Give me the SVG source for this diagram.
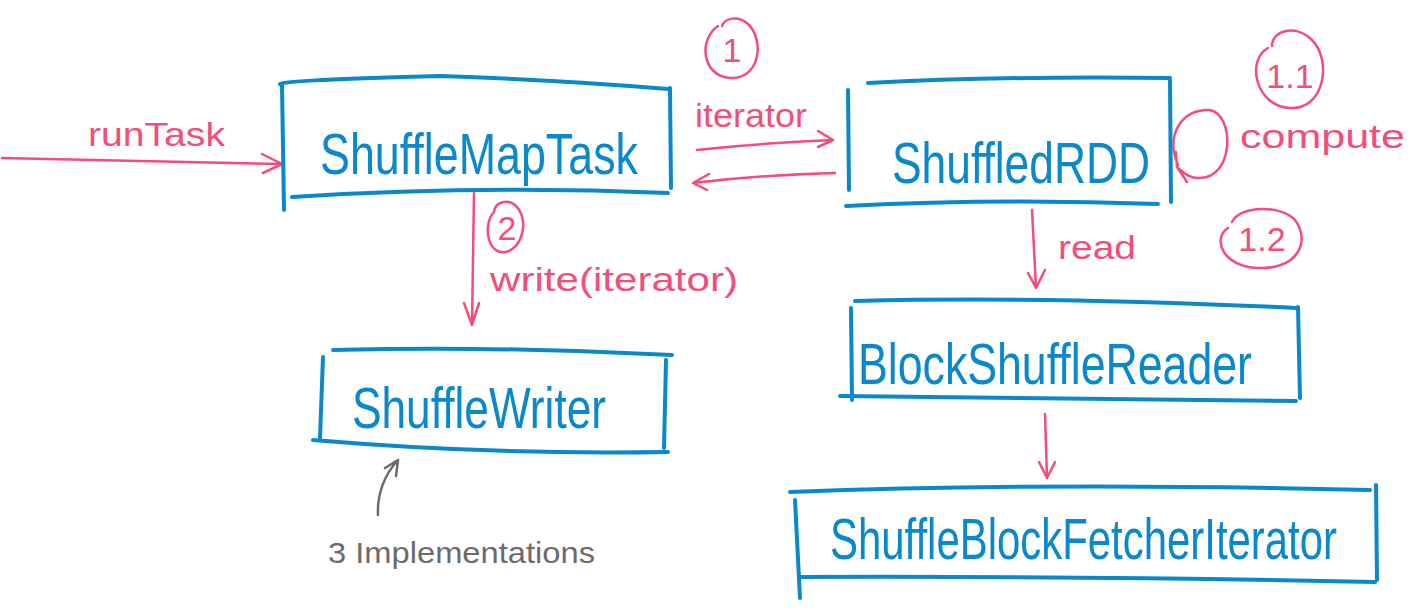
<svg xmlns="http://www.w3.org/2000/svg" width="1426" height="610" viewBox="0 0 1426 610">
<style>
.box{fill:none;stroke:#0a88cc;stroke-width:4;stroke-linecap:round;stroke-linejoin:round}
.btxt{fill:#0a88cc;font-family:"Liberation Sans","DejaVu Sans",sans-serif;font-size:58px}
.pk{fill:none;stroke:#f44d7a;stroke-width:2.5;stroke-linecap:round;stroke-linejoin:round}
.ptxt{fill:#f44d7a;font-family:"Liberation Sans","DejaVu Sans",sans-serif;font-size:34px}
.gr{fill:none;stroke:#6e6a6a;stroke-width:2.5;stroke-linecap:round;stroke-linejoin:round}
.gtxt{fill:#6e6a6a;font-family:"Liberation Sans","DejaVu Sans",sans-serif;font-size:30px}
</style>
<g id="connectors">
  <path class="pk" d="M2,158 L282,164 M262,154 L282,164 L263,173"/>
  <path class="pk" d="M697,150 Q760,143 833,140 M818,131 L833,140 L818,147"/>
  <path class="pk" d="M835,173 Q760,175 693,183 M709,174 L693,183 L707,190"/>
  <path class="pk" d="M1178,165 C1165,135 1182,108 1210,110 C1235,115 1234,178 1200,178 C1190,179 1183,172 1178,168 M1176,152 L1177,167 L1187,182"/>
  <path class="pk" d="M1032,210 L1036,288 M1028,273 L1036,288 L1045,270"/>
  <path class="pk" d="M1045,414 L1047,478 M1039,462 L1047,478 L1055,462"/>
  <path class="pk" d="M474,193 L472,325 M464,303 L472,325 L479,303"/>
  <path class="gr" d="M378,515 C377,495 384,475 398,460 M385,468 L398,460 L396,476"/>
</g>
<g id="labels">
  <text class="ptxt" x="88" y="146" textLength="137" lengthAdjust="spacingAndGlyphs">runTask</text>
  <text class="ptxt" x="695" y="127" textLength="112" lengthAdjust="spacingAndGlyphs">iterator</text>
  <text class="ptxt" x="1240" y="148" textLength="165" lengthAdjust="spacingAndGlyphs">compute</text>
  <text class="ptxt" x="1058" y="259" textLength="78" lengthAdjust="spacingAndGlyphs">read</text>
  <text class="ptxt" x="490" y="291" textLength="248" lengthAdjust="spacingAndGlyphs">write(iterator)</text>
  <text class="gtxt" x="328" y="563" textLength="267" lengthAdjust="spacingAndGlyphs">3 Implementations</text>
</g>
<g id="step1">
  <path class="pk" d="M718,26 C698,40 702,76 730,78 C760,80 765,40 748,24 C738,15 725,18 722,26"/>
  <text class="ptxt" x="732" y="62" text-anchor="middle" font-size="28">1</text>
</g>
<g id="step11">
  <path class="pk" d="M1268,48 C1246,60 1255,106 1290,108 C1325,110 1332,60 1312,40 C1296,24 1272,30 1272,46"/>
  <text class="ptxt" x="1290" y="88" text-anchor="middle" font-size="30">1.1</text>
</g>
<g id="step12">
  <path class="pk" d="M1228,228 C1212,238 1222,268 1260,268 C1300,268 1310,240 1295,220 C1282,205 1240,205 1232,222"/>
  <text class="ptxt" x="1262" y="251" text-anchor="middle" font-size="30">1.2</text>
</g>
<g id="step2">
  <path class="pk" d="M494,212 C482,225 488,255 505,252 C522,250 530,220 516,206 C508,198 495,202 494,212"/>
  <text class="ptxt" x="507" y="240" text-anchor="middle" font-size="26">2</text>
</g>
<g id="ShuffleMapTask">
  <path class="box" d="M280,84 Q285,80 440,76 Q560,80 668,89 M282,85 L284,210 M670,88 L671,188 M292,197 Q480,185 668,193"/>
  <text class="btxt" x="320" y="174" textLength="318" lengthAdjust="spacingAndGlyphs">ShuffleMapTask</text>
</g>
<g id="ShuffledRDD">
  <path class="box" d="M868,83 Q1000,76 1170,78 M848,90 L849,190 M1170,80 L1171,202 M846,206 Q1000,198 1158,204"/>
  <text class="btxt" x="892" y="183" textLength="258" lengthAdjust="spacingAndGlyphs">ShuffledRDD</text>
</g>
<g id="BlockShuffleReader">
  <path class="box" d="M855,301 Q1050,296 1296,308 M851,308 L852,400 M1298,307 L1300,398 M840,396 Q1050,398 1296,401"/>
  <text class="btxt" x="858" y="384" textLength="394" lengthAdjust="spacingAndGlyphs">BlockShuffleReader</text>
</g>
<g id="ShuffleBlockFetcherIterator">
  <path class="box" d="M790,492 Q1050,482 1370,490 M795,500 L800,598 M1376,485 L1377,580 M800,577 Q1100,576 1375,582"/>
  <text class="btxt" x="830" y="559" font-size="54" textLength="507" lengthAdjust="spacingAndGlyphs">ShuffleBlockFetcherIterator</text>
</g>
<g id="ShuffleWriter">
  <path class="box" d="M333,350 Q500,346 672,355 M323,357 L320,438 M666,360 L664,448 M313,440 Q490,455 668,452"/>
  <text class="btxt" x="352" y="428" textLength="254" lengthAdjust="spacingAndGlyphs">ShuffleWriter</text>
</g>
</svg>
